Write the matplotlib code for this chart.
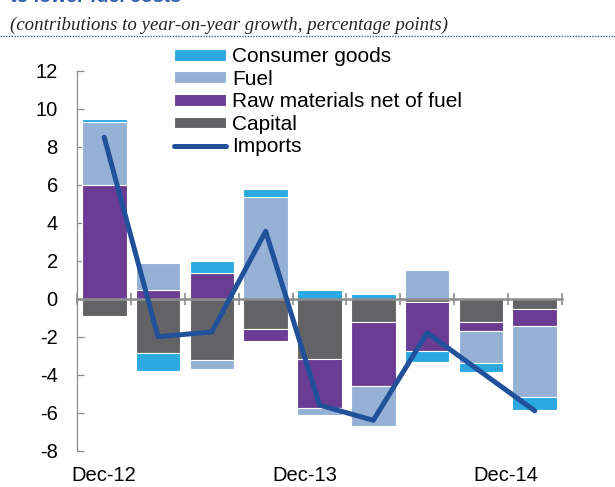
import numpy as np
import matplotlib
matplotlib.use("Agg")
import matplotlib.pyplot as plt
from matplotlib.lines import Line2D

# quarterly data, contributions to y-o-y import growth (pp)
categories = ['Dec-12', 'Mar-13', 'Jun-13', 'Sep-13', 'Dec-13',
              'Mar-14', 'Jun-14', 'Sep-14', 'Dec-14']
capital = [-0.9, -2.85, -3.2, -1.6, -3.15, -1.2, -0.15, -1.2, -0.55]
raw_materials = [6.0, 0.45, 1.35, -0.65, -2.6, -3.4, -2.6, -0.5, -0.9]
fuel = [3.3, 1.45, -0.5, 5.35, -0.35, -2.1, 1.5, -1.7, -3.7]
consumer = [0.18, -0.95, 0.65, 0.45, 0.45, 0.25, -0.6, -0.45, -0.7]
imports = [8.5, -2.0, -1.75, 3.55, -5.6, -6.4, -1.8, -3.85, -5.9]

shown_labels = ['Dec-12', 'Dec-13', 'Dec-14']
label_pos = [0, 3.73, 7.47]

plt.rcParams['font.family'] = ['Liberation Sans', 'DejaVu Sans']
plt.rcParams['axes.unicode_minus'] = False

fig = plt.figure(figsize=(6.15, 4.87), dpi=100)
ax = fig.add_axes([0.1257, 0.0745, 0.9133 - 0.1257, 0.8548 - 0.0745])

x = np.arange(len(categories))
series = [
    ('Capital', capital, '#636365'),
    ('Raw materials net of fuel', raw_materials, '#6A3C94'),
    ('Fuel', fuel, '#95B1D6'),
    ('Consumer goods', consumer, '#2CA9E1'),
]

pos_base = np.zeros(len(x))
neg_base = np.zeros(len(x))
handles = {}
for name, vals, col in series:
    v = np.array(vals)
    bottom = np.where(v >= 0, pos_base, neg_base)
    b = ax.bar(x, v, 0.83, bottom=bottom, color=col, edgecolor='white',
               linewidth=0.8, label=name, zorder=2)
    handles[name] = b
    pos_base += np.where(v >= 0, v, 0)
    neg_base += np.where(v < 0, v, 0)

line, = ax.plot(x, imports, color='#21519B', lw=3.6, label='Imports',
                zorder=4, solid_capstyle='round')

ax.set_xlim(-0.5, len(x) - 0.5)
ax.set_ylim(-8, 12)
ax.set_yticks(np.arange(-8, 13, 2))

for s in ['top', 'right']:
    ax.spines[s].set_visible(False)
ax.spines['left'].set_color('#8C8C8C')
ax.spines['left'].set_linewidth(0.9)
ax.spines['bottom'].set_position(('data', 0))
ax.spines['bottom'].set_color('#8C8C8C')
ax.spines['bottom'].set_linewidth(1.8)
ax.spines['bottom'].set_zorder(3)

ax.set_xticks(np.arange(-0.5, len(x), 1.0))
ax.set_xticklabels([])
ax.tick_params(axis='x', direction='inout', length=9, width=1.2,
               color='#8C8C8C')
ax.tick_params(axis='y', direction='in', length=5, width=0.9,
               color='#8C8C8C', labelsize=14.5, pad=14)

for lab, p in zip(shown_labels, label_pos):
    ax.text(p, -0.064, lab, transform=ax.get_xaxis_transform(),
            ha='center', va='center', fontsize=14.5)

order = ['Consumer goods', 'Fuel', 'Raw materials net of fuel', 'Capital']
leg_h = [handles[n] for n in order] + [line]
leg_l = order + ['Imports']
fig.legend(leg_h, leg_l, loc='upper left', bbox_to_anchor=(0.283, 0.903),
           frameon=False, fontsize=15, handlelength=2.5, handleheight=0.5,
           handletextpad=0.3, labelspacing=0.17, borderpad=0, borderaxespad=0)

# header: cropped title (only its lower edge shows), subtitle and dotted rule
fig.text(0.017, 1 - 1.5 / 487, 'to lower fuel costs', color='#2F5BA8',
         fontsize=14, fontweight='bold', va='baseline', ha='left')
fig.text(0.017, 1 - 30 / 487, '(contributions to year-on-year growth, percentage points)',
         family='Liberation Serif', style='italic', fontsize=13.6,
         color='#222222', va='baseline', ha='left')
fig.add_artist(Line2D([0, 1], [1 - 35.5 / 487] * 2, transform=fig.transFigure,
                      color='#3D5FA8', lw=1.0, linestyle=(0, (1, 1))))

fig.savefig('out.png', dpi=100)
